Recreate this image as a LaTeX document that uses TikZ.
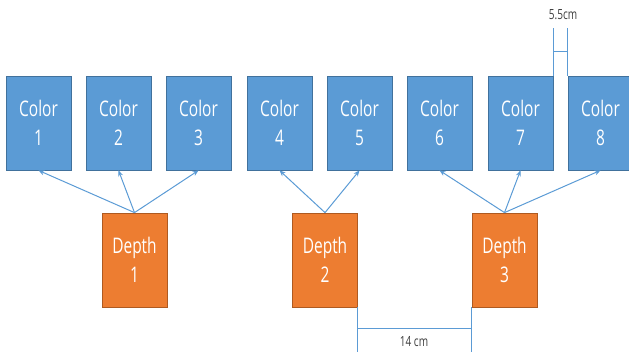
\documentclass[tikz,border=0pt]{standalone}
\usepackage{fontspec}
\usetikzlibrary{arrows.meta,calc}
\newfontfamily\boxfont[FakeStretch=0.72]{Open Sans}
\definecolor{boxblue}{HTML}{5B9BD5}
\definecolor{boxblueedge}{HTML}{41719C}
\definecolor{boxorange}{HTML}{ED7D31}
\definecolor{boxorangeedge}{HTML}{AE5A21}
\definecolor{dimtext}{HTML}{404040}
\tikzset{
  colorbox/.style={draw=boxblueedge, fill=boxblue, line width=0.8pt,
    minimum width=65pt, minimum height=94pt, inner sep=0pt,
    text=white, align=center,
    font=\boxfont\fontsize{21.5}{29}\selectfont},
  depthbox/.style={colorbox, draw=boxorangeedge, fill=boxorange},
  link/.style={draw=boxblue, line width=1pt,
    -{Stealth[length=6pt,width=5pt]}},
  dimline/.style={draw=boxblue, line width=0.9pt},
  dimlabel/.style={text=dimtext, inner sep=0pt,
    font=\boxfont\fontsize{14}{16}\selectfont}
}
\begin{document}
\begin{tikzpicture}[x=1pt,y=-1pt]
  \useasboundingbox (0,0) rectangle (629,351);

  % top row of colour boxes
  \node[colorbox] (c1) at (38.5,123)  {Color\\1};
  \node[colorbox] (c2) at (118.5,123) {Color\\2};
  \node[colorbox] (c3) at (198.5,123) {Color\\3};
  \node[colorbox] (c4) at (279.5,123) {Color\\4};
  \node[colorbox] (c5) at (359.5,123) {Color\\5};
  \node[colorbox] (c6) at (439.5,123) {Color\\6};
  \node[colorbox] (c7) at (520.5,123) {Color\\7};
  \node[colorbox] (c8) at (600.5,123) {Color\\8};

  % depth boxes
  \node[depthbox] (d1) at (134.5,260) {Depth\\1};
  \node[depthbox] (d2) at (325,260)   {Depth\\2};
  \node[depthbox] (d3) at (504.5,260) {Depth\\3};

  % depth -> colour links
  \draw[link] (d1.north) -- (c1.south);
  \draw[link] (d1.north) -- (c2.south);
  \draw[link] (d1.north) -- (c3.south);
  \draw[link] (d2.north) -- (c4.south);
  \draw[link] (d2.north) -- (c5.south);
  \draw[link] (d3.north) -- (c6.south);
  \draw[link] (d3.north) -- (c7.south);
  \draw[link] (d3.north) -- (c8.south);

  % gap dimension between colour boxes 7 and 8
  \coordinate (g1) at ($(c7.north east)+(0,-48)$);
  \coordinate (g2) at ($(c8.north west)+(0,-48)$);
  \draw[dimline] (c7.north east) -- (g1);
  \draw[dimline] (c8.north west) -- (g2);
  \draw[dimline] ($(c7.north east)+(0,-24)$) -- ($(c8.north west)+(0,-24)$);
  \node[dimlabel] (gaplabel) at (563,15) {5.5cm};

  % distance dimension between depth boxes 2 and 3
  \coordinate (s1) at ($(d2.south east)+(0,46)$);
  \coordinate (s2) at ($(d3.south west)+(0,46)$);
  \draw[dimline] (d2.south east) -- (s1);
  \draw[dimline] (d3.south west) -- (s2);
  \draw[dimline] ($(d2.south east)+(0,21)$) -- ($(d3.south west)+(0,21)$);
  \node[dimlabel] (distlabel) at (414,342) {14 cm};
\end{tikzpicture}
\end{document}
